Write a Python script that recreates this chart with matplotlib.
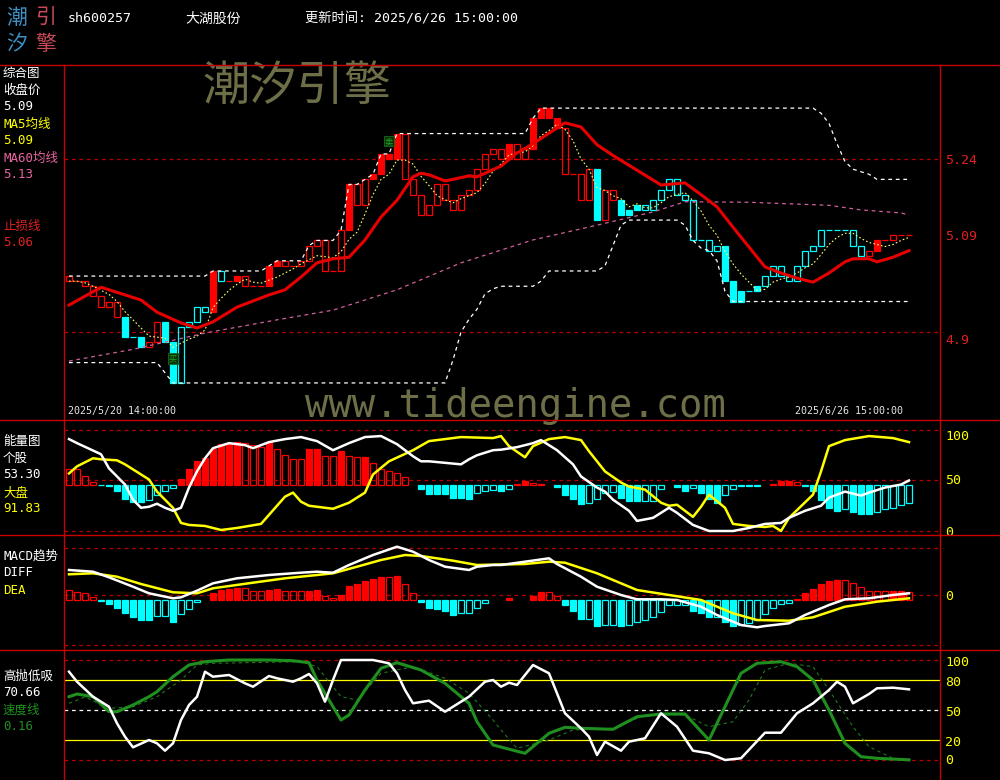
import matplotlib
matplotlib.use('Agg')
import matplotlib.pyplot as plt
from matplotlib.lines import Line2D
import numpy as np
import pandas as pd

plt.rcParams['font.family'] = ['DejaVu Sans Mono', 'Noto Sans CJK SC']

# ---------------- header / labels ----------------
stock_code = 'sh600257'
stock_name = '大湖股份'
update_time = '更新时间: 2025/6/26 15:00:00'
start_label = '2025/5/20 14:00:00'
end_label = '2025/6/26 15:00:00'

# ---------------- main panel data ----------------
prev_close = 5.01
closes = [5.00, 5.00, 4.99, 4.97, 4.95, 4.96, 4.93, 4.89, 4.89, 4.87,
          4.88, 4.92, 4.88, 4.80, 4.91, 4.92, 4.95, 4.94, 5.02, 5.00,
          5.00, 5.01, 4.99, 4.99, 4.99, 5.03, 5.04, 5.03, 5.03, 5.04,
          5.07, 5.08, 5.02, 5.02, 5.10, 5.19, 5.15, 5.20, 5.21, 5.25,
          5.24, 5.29, 5.20, 5.17, 5.13, 5.15, 5.19, 5.16, 5.14, 5.17,
          5.18, 5.22, 5.25, 5.26, 5.24, 5.27, 5.24, 5.26, 5.32, 5.34,
          5.32, 5.30, 5.21, 5.21, 5.16, 5.22, 5.12, 5.18, 5.16, 5.13,
          5.14, 5.15, 5.14, 5.16, 5.18, 5.20, 5.17, 5.16, 5.08, 5.08,
          5.06, 5.07, 5.00, 4.96, 4.98, 4.98, 4.99, 5.01, 5.03, 5.01,
          5.00, 5.03, 5.06, 5.07, 5.10, 5.10, 5.10, 5.10, 5.07, 5.05,
          5.06, 5.08, 5.08, 5.09, 5.09, 5.09]
# R red filled, r red hollow, C cyan filled, c cyan hollow
candle_style = ("rrrrrrr" "CcC" "rrCC" "cccc" "RcrRrrrRRrrr" "rrrrr" "RrrRRRR"
                "rrrrrrrrrrrrr" "RrrRRRR" "rrrr" "Crr" "CCC" "cccccccccc"
                "CCCcC" "ccccccccccccc" "rRrrrr")

ma60_idx = [0, 8, 17, 26, 33, 41, 49, 58, 66, 73, 77, 85, 95, 99, 104, 105]
ma60_val = [4.843, 4.866, 4.898, 4.924, 4.943, 4.983, 5.036, 5.081, 5.110,
            5.136, 5.156, 5.155, 5.149, 5.140, 5.134, 5.130]

upper_idx = [0, 17, 18, 24, 25, 26, 29, 30, 31, 33, 34, 35, 36, 37, 38, 39, 40,
             41, 57, 58, 59, 93, 94, 95, 96, 97, 98, 100, 101, 105]
upper_val = [5.01, 5.01, 5.02, 5.02, 5.03, 5.04, 5.04, 5.07, 5.08, 5.08, 5.10,
             5.19, 5.19, 5.20, 5.21, 5.25, 5.25, 5.29, 5.29, 5.32, 5.34, 5.34,
             5.33, 5.31, 5.27, 5.235, 5.22, 5.21, 5.20, 5.20]

lower_idx = [0, 11, 12, 13, 47, 48, 49, 50, 51, 52, 53, 54, 58, 59, 60, 66, 67,
             68, 69, 70, 76, 77, 78, 79, 80, 81, 82, 83, 105]
lower_val = [4.84, 4.84, 4.82, 4.80, 4.80, 4.845, 4.90, 4.925, 4.945, 4.975,
             4.985, 4.99, 4.99, 5.00, 5.02, 5.02, 5.03, 5.07, 5.11, 5.12, 5.12,
             5.11, 5.08, 5.065, 5.06, 5.04, 4.98, 4.96, 4.96]

stop_idx = [0, 4, 9, 11, 14, 16, 18, 21, 25, 27, 29, 31, 33, 35, 37, 39, 41, 43,
            44, 45, 47, 48, 50, 51, 54, 56, 58, 61, 62, 64, 66, 68, 71, 74, 77,
            79, 81, 83, 85, 87, 89, 91, 93, 95, 97, 98, 100, 101, 103, 105]
stop_val = [4.953, 4.988, 4.963, 4.939, 4.918, 4.908, 4.920, 4.949, 4.973,
            4.983, 5.008, 5.036, 5.044, 5.047, 5.081, 5.126, 5.159, 5.205,
            5.212, 5.209, 5.197, 5.200, 5.207, 5.205, 5.226, 5.252, 5.270,
            5.301, 5.311, 5.303, 5.268, 5.247, 5.218, 5.189, 5.193, 5.170,
            5.146, 5.106, 5.067, 5.028, 5.016, 5.006, 4.998, 5.016, 5.038,
            5.044, 5.044, 5.038, 5.047, 5.060]

price_grid = [5.24, 4.90]
price_labels = [(5.24, '5.24', 161), (5.09, '5.09', 237), (4.90, '4.9', 340)]
markers = [(13, 4.848, '买'), (40, 5.275, '卖')]

# ---------------- energy panel ----------------
energy_base = 45.8
energy_bars = [16, 16, 9, 2.5, -0.5, -1, -6, -14, -17, -17,
               -15, -10, -6, -3, 5.7, 16, 24, 26, 35, 40,
               40, 42, 41, 39, 37, 42, 35, 29, 25, 25,
               35, 35, 28, 28, 33, 28, 27, 27, 22, 16,
               14, 12, 7.5, 0, -4, -9, -9, -9, -13, -13,
               -14, -8, -6, -5, -6, -4, 1, 4, 2, 1,
               0, -2, -10, -14, -19, -18, -14, -8, -7, -13,
               -16, -16, -16, -16, -4, 0, -2, -6, -3, -8,
               -14, -18, -10, -4, -1, -1, -1, 0, 1, 4,
               4, 3, -1, -6, -15, -23, -26, -24, -27, -29,
               -29, -27, -24, -23, -20, -18]
energy_style = ("rrrr" "cc" "CCCC" "cccc" "RRRRRRRR" "rrr" "R" "rrrr" "RR" "rr"
                "R" "rr" "R" "rrrrrr" "CCCCCCC" "ccc" "C" "c" "r" "R" "rrr"
                "CCCC" "cccc" "CCC" "cccc" "CC" "c" "CCC" "cccccc" "r" "RR" "r"
                "c" "CCCC" "c" "CCC" "ccccc")
ew_idx = [0, 1, 4, 5, 7, 8, 9, 10, 11, 12, 13, 14, 15, 16, 17, 18, 20, 22, 23,
          25, 27, 29, 31, 33, 35, 37, 39, 41, 43, 44, 45, 49, 50, 51, 53, 54,
          56, 58, 59, 61, 63, 64, 66, 67, 68, 70, 71, 73, 75, 76, 78, 80, 81,
          83, 85, 87, 89, 90, 92, 94, 95, 97, 99, 100, 102, 104, 105]
ew_val = [91, 87, 76, 62, 46, 31, 23, 24, 27, 23, 20, 23, 43, 59, 72, 82, 87,
          85, 82, 88, 91, 93, 89, 80, 87, 93, 94, 86, 74, 69, 69, 66, 71, 75,
          80, 80.5, 83, 87, 90, 80, 66, 54, 43, 39, 31, 20, 10, 13, 23, 18, 6,
          0, 0, 0, 3, 7, 8, 13, 20, 25, 33, 39, 35, 38, 43, 46, 50]
ey_idx = [0, 1, 3, 4, 6, 7, 9, 10, 11, 13, 14, 15, 17, 19, 21, 24, 25, 27, 28,
          29, 30, 33, 35, 37, 38, 40, 43, 45, 49, 53, 54, 55, 57, 58, 60, 62,
          64, 65, 67, 69, 70, 72, 74, 75, 76, 78, 79, 80, 82, 83, 85, 87, 88,
          89, 90, 93, 94, 95, 97, 100, 103, 105]
ey_val = [57, 64, 72, 71, 70, 66, 56, 51, 39, 23, 8, 6, 5, 1, 3, 7, 16, 34, 38,
          29, 25, 22, 28, 38, 56, 69, 80, 89, 93, 92, 94, 84, 73, 84, 91, 93,
          90, 79, 59, 48, 44, 41, 28, 25, 26, 14, 24, 36, 23, 7, 5, 4, 5, 0, 13,
          36, 59, 84, 90, 94, 92, 88]

# ---------------- MACD panel (units: 0.001) ----------------
macd_base = -5
macd_hist = [10, 8.3, 6.7, 2.7, -0.7, -4, -7.7, -12.7, -16.7, -20,
             -20, -16, -16, -21.7, -14, -9.3, -2.3, 0, 7.3, 10,
             11.3, 12.3, 12.3, 9.3, 9.3, 10, 10.7, 9.3, 8.7, 8.7,
             9.3, 10, 4, 1.7, 5, 14, 15.7, 19.3, 21, 23.3,
             22.7, 24.3, 16, 7.3, -2.3, -7.7, -9, -11, -15, -12.7,
             -12.7, -8.3, -3.3, 0, 0, 1.7, 0, 0, 4.3, 8.3,
             8.3, 4.3, -5, -10.7, -19, -19, -26, -25, -25, -26,
             -25, -21.7, -20, -16.7, -11.7, -5.3, -5, -5, -10.7, -13.3,
             -16.7, -16.7, -21.7, -26, -25, -23.3, -20, -14, -7.7, -4.3,
             -2.7, 0.7, 7.3, 11, 16, 19, 20, 20, 16.7, 12.7,
             9.3, 9.3, 9.3, 9.3, 9.3, 8.3]
macd_style = ("rrrr" "c" "CCCCCC" "cc" "C" "ccc" "r" "RRRR" "rrr" "RR" "rrr"
              "RR" "rr" "RRRRRR" "r" "R" "rr" "CCCCC" "cccc" "cc" "R" "rr"
              "RR" "rr" "CCC" "c" "C" "cc" "C" "cccccccc" "CCC" "c" "CC"
              "ccccccc" "r" "RRRRR" "rrrrrr" "RR" "r")
diff_idx = [0, 3, 5, 8, 10, 13, 14, 16, 18, 21, 25, 29, 31, 33, 35, 38, 41, 43,
            45, 47, 50, 51, 53, 54, 57, 60, 61, 64, 66, 69, 71, 74, 76, 79, 81,
            84, 86, 87, 90, 92, 95, 97, 100, 103, 105]
diff_val = [25, 23.3, 17.7, 8.3, 1.7, -3.3, -2.3, 4.3, 11.7, 16.7, 20, 22.3,
            23.3, 22.3, 30, 40, 48.3, 43.3, 35, 28.3, 25, 28.3, 30, 30, 33.3,
            36.7, 31, 18.3, 8.3, 0, -4.3, -4.3, -5, -11.7, -20, -30, -32.3,
            -31, -28.3, -20, -10, -4.3, -3.3, 0, 1.7]
dea_idx = [0, 3, 6, 9, 13, 16, 18, 23, 27, 31, 33, 36, 39, 42, 44, 48, 51, 57,
           60, 62, 66, 71, 75, 79, 83, 86, 90, 93, 97, 101, 105]
dea_val = [20.7, 21.7, 18.3, 11, 2.7, 1.7, 6.7, 12.3, 16.7, 20, 21.7, 28.3, 35,
           40, 39, 34.3, 30, 31, 33.3, 32.3, 21.7, 5, 0, -5, -18.3, -25, -25.7,
           -22.3, -11.7, -6.7, -3.3]

# ---------------- 高抛低吸 panel ----------------
gw_idx = [0, 1, 3, 5, 6, 7, 8, 10, 11, 12, 13, 14, 15, 16, 17, 18, 20, 22, 23,
          25, 26, 28, 29, 30, 31, 32, 33, 34, 35, 38, 40, 41, 42, 43, 45, 47,
          50, 52, 53, 54, 55, 56, 58, 60, 62, 64, 65, 66, 67, 69, 70, 72, 74,
          76, 78, 80, 82, 84, 87, 89, 91, 93, 95, 96, 97, 98, 100, 101, 103,
          105]
gw_val = [88.3, 78.3, 63.3, 53.3, 36.7, 23.3, 12.7, 20, 16.7, 9.3, 16.7, 40,
          55, 63.3, 88.3, 83.3, 85, 76.7, 73.3, 84, 81.7, 78.3, 81.7, 86, 76.7,
          58.3, 80, 100, 100, 100, 96.7, 86.7, 70, 56.7, 59.3, 48.3, 63.3,
          78.3, 80, 73.3, 77.3, 75, 95, 86.7, 46.7, 31.7, 23.3, 5, 18.3, 9.3,
          18.3, 21.7, 46.7, 33.3, 9.3, 6.7, 0, 1.7, 27.3, 27.3, 46.7, 56.7, 70,
          78.3, 73.3, 56.7, 66, 71.7, 72.3, 70.66]
gs_idx = [0, 1, 3, 5, 6, 8, 10, 11, 13, 15, 17, 20, 25, 28, 30, 31, 33, 34, 35,
          37, 39, 41, 44, 47, 50, 51, 53, 57, 60, 62, 64, 68, 71, 74, 77, 80,
          84, 86, 89, 91, 93, 95, 97, 99, 101, 105]
gs_val = [63.3, 66, 63.3, 48.3, 48.3, 55, 63.3, 68.3, 83.3, 95, 98.3, 100, 100,
          99.3, 97.3, 80, 53.3, 40, 45, 70, 91.7, 97.3, 90, 76.7, 56.7, 38.3,
          15, 6.7, 26.7, 32.7, 31.7, 30.7, 43.3, 46, 46, 20, 86.7, 96.7, 98.3,
          93.3, 80, 50, 16.7, 3.3, 1.7, 0.16]
gd_idx = [0, 2, 5, 8, 11, 14, 16, 18, 29, 31, 33, 34, 36, 39, 43, 47, 50, 53,
          54, 56, 60, 63, 68, 72, 77, 80, 83, 85, 87, 90, 93, 95, 98, 100, 103,
          105]
gd_val = [56.7, 63, 51.7, 53.3, 63.3, 80, 95, 96.7, 98.3, 93.3, 73.3, 63.3, 60,
          86.7, 93.3, 81.7, 66.7, 40, 30, 11.7, 20, 30, 31.7, 45, 45, 33.3,
          38.3, 60, 90, 96.7, 93.3, 70, 33.3, 13.3, 1.7, 0]

# ---------------- styling ----------------
RED = '#ff0000'
CYAN = '#00ffff'
YEL = '#ffff00'
FRAME = '#c80000'
GRID = '#b40000'
OLIVE = '#6e6e48'
GREEN = '#1f8f1f'
W, H = 1000, 780

fig = plt.figure(figsize=(10, 7.8), dpi=100, facecolor='black')


def fy(px):
    return 1 - px / H


def make_ax(top, bot, ylim):
    ax = fig.add_axes([64 / W, fy(bot), 876 / W, (bot - top) / H])
    ax.set_facecolor('black')
    ax.set_xlim(-0.625, 108.875)
    ax.set_ylim(*ylim)
    ax.set_xticks([])
    ax.set_yticks([])
    for s in ax.spines.values():
        s.set_visible(False)
    return ax


def styled_bars(ax, x, heights, bottoms, styles, width, minh):
    heights = np.asarray(heights, float)
    bottoms = np.asarray(bottoms, float)
    codes = np.array(list(styles))
    for code, fc, ec in [('R', RED, RED), ('r', 'none', RED),
                         ('C', CYAN, CYAN), ('c', 'none', CYAN)]:
        m = (codes == code) & (heights != 0)
        h = np.where(np.abs(heights[m]) < minh, np.sign(heights[m]) * minh, heights[m])
        ax.bar(x[m], h, bottom=bottoms[m], width=width, facecolor=fc,
               edgecolor=ec, linewidth=0.9, zorder=2)


n = len(closes)
x = np.arange(n)
closes_a = np.array(closes)
opens_a = np.r_[prev_close, closes_a[:-1]]

# ---- main panel ----
ax1 = make_ax(65, 420, (4.7272, 5.4247))
for p in price_grid:
    ax1.axhline(p, color=GRID, lw=0.9, ls=(0, (3, 3)), zorder=1)
lo = np.minimum(opens_a, closes_a)
hgt = np.abs(closes_a - opens_a)
hgt = np.where(hgt == 0, 0.0004, hgt)
styled_bars(ax1, x, hgt, lo, candle_style, 0.82, 0.0004)
ma5 = pd.Series(closes).rolling(5, min_periods=1).mean()
ax1.plot(x, ma5, color='#ffff70', lw=0.8, ls=(0, (1.5, 2)), zorder=3)
ax1.plot(ma60_idx, ma60_val, color='#d0609c', lw=0.9, ls=(0, (3, 3)), zorder=3)
ax1.plot(upper_idx, upper_val, color='white', lw=0.9, ls=(0, (3, 3)), zorder=3)
ax1.plot(lower_idx, lower_val, color='white', lw=0.9, ls=(0, (3, 3)), zorder=3)
ax1.plot(stop_idx, stop_val, color='#e80000', lw=2.2, zorder=4,
         solid_joinstyle='round')
for mi, mp, mt in markers:
    ax1.text(mi, mp, mt, color='#22a022', fontsize=6, ha='center', va='center',
             family=['Noto Sans CJK SC'], zorder=5,
             bbox=dict(facecolor='#0a300a', edgecolor='#1a6a1a', pad=0.4, lw=0.6))

# ---- energy panel ----
ax2 = make_ax(420, 535, (-3.96, 109.9))
for v in [100, 50, 0]:
    ax2.axhline(v, color=GRID, lw=0.9, ls=(0, (3, 3)), zorder=1)
styled_bars(ax2, x, energy_bars, np.full(n, energy_base), energy_style, 0.82, 0.4)
ax2.plot(ey_idx, ey_val, color=YEL, lw=1.8, zorder=3)
ax2.plot(ew_idx, ew_val, color='white', lw=1.8, zorder=3)

# ---- MACD panel ----
ax3 = make_ax(535, 650, (-55, 60))
for v in [47, 0, -50]:
    ax3.axhline(v, color=GRID, lw=0.9, ls=(0, (3, 3)), zorder=1)
styled_bars(ax3, x, macd_hist, np.full(n, macd_base), macd_style, 0.82, 0.5)
ax3.plot(dea_idx, dea_val, color=YEL, lw=1.8, zorder=3)
ax3.plot(diff_idx, diff_val, color='white', lw=1.8, zorder=3)

# ---- 高抛低吸 panel ----
ax4 = make_ax(650, 780, (-20, 110))
for v in [100, 0]:
    ax4.axhline(v, color=GRID, lw=0.9, ls=(0, (3, 3)), zorder=1)
for v in [80, 20]:
    ax4.axhline(v, color=YEL, lw=0.9, zorder=1)
ax4.axhline(50, color='white', lw=0.9, ls=(0, (3, 3)), zorder=1)
ax4.plot(gd_idx, gd_val, color='#1c7a1c', lw=0.8, ls=(0, (3, 3)), zorder=2)
ax4.plot(gs_idx, gs_val, color=GREEN, lw=2.2, zorder=3)
ax4.plot(gw_idx, gw_val, color='white', lw=1.8, zorder=4)

# ---- frame ----
for yy in [65, 420, 535, 650]:
    fig.add_artist(Line2D([0, 1], [fy(yy), fy(yy)], color=FRAME, lw=1.0,
                          transform=fig.transFigure, zorder=10))
for xx in [64, 940]:
    fig.add_artist(Line2D([xx / W, xx / W], [fy(65), 0], color=FRAME, lw=1.0,
                          transform=fig.transFigure, zorder=10))

# ---- header ----
logo = [('潮', 17, 18, '#3d8fc4'), ('引', 46, 18, '#c84a5a'),
        ('汐', 17, 44, '#3d8fc4'), ('擎', 46, 44, '#c84a5a')]
for ch, lx, ly, c in logo:
    fig.text(lx / W, fy(ly), ch, color=c, fontsize=15, ha='center', va='center',
             family=['Noto Sans CJK SC'], weight='light')
fig.text(68 / W, fy(19), stock_code, color='white', fontsize=9.5, va='center')
fig.text(185 / W, fy(19), stock_name, color='white', fontsize=10, va='center')
fig.text(305 / W, fy(19), update_time, color='white', fontsize=9.5, va='center')

# watermarks
fig.text(297 / W, fy(87), '潮汐引擎', color=OLIVE, fontsize=34, ha='center',
         va='center', family=['Noto Sans CJK SC'], zorder=0)
fig.text(515 / W, fy(406), 'www.tideengine.com', color=OLIVE, fontsize=28,
         ha='center', va='center', zorder=0)

# date labels
fig.text(68 / W, fy(411), start_label, color='#e6e6e6', fontsize=7.2, va='center')
fig.text(903 / W, fy(411), end_label, color='#e6e6e6', fontsize=7.2, va='center',
         ha='right')

# left labels
left_labels = [
    ('综合图', 73, 'white'), ('收盘价', 90, 'white'), ('5.09', 107, 'white'),
    ('MA5均线', 124, YEL), ('5.09', 141, YEL),
    ('MA60均线', 158, '#e664a0'), ('5.13', 175, '#e664a0'),
    ('止损线', 226, '#e02020'), ('5.06', 243, '#e02020'),
    ('能量图', 441, 'white'), ('个股', 458, 'white'), ('53.30', 475, 'white'),
    ('大盘', 493, YEL), ('91.83', 509, YEL),
    ('MACD趋势', 556, 'white'), ('DIFF', 573, 'white'), ('DEA', 590, YEL),
    ('高抛低吸', 676, 'white'), ('70.66', 693, 'white'),
    ('速度线', 710, GREEN), ('0.16', 727, GREEN),
]
for t, yy, c in left_labels:
    fig.text(3 / W, fy(yy), t, color=c, fontsize=9, va='center')

# right labels
for _, t, yy in price_labels:
    fig.text(945 / W, fy(yy), t, color='#e02020', fontsize=9.5, va='center')
right_sub = [('100', 436), ('50', 481), ('0', 532), ('0', 596),
             ('100', 662), ('80', 683), ('50', 712), ('20', 742), ('0', 760)]
for t, yy in right_sub:
    fig.text(945 / W, fy(yy), t, color=YEL, fontsize=9.5, va='center')

fig.savefig('out.png', dpi=100, facecolor='black')
